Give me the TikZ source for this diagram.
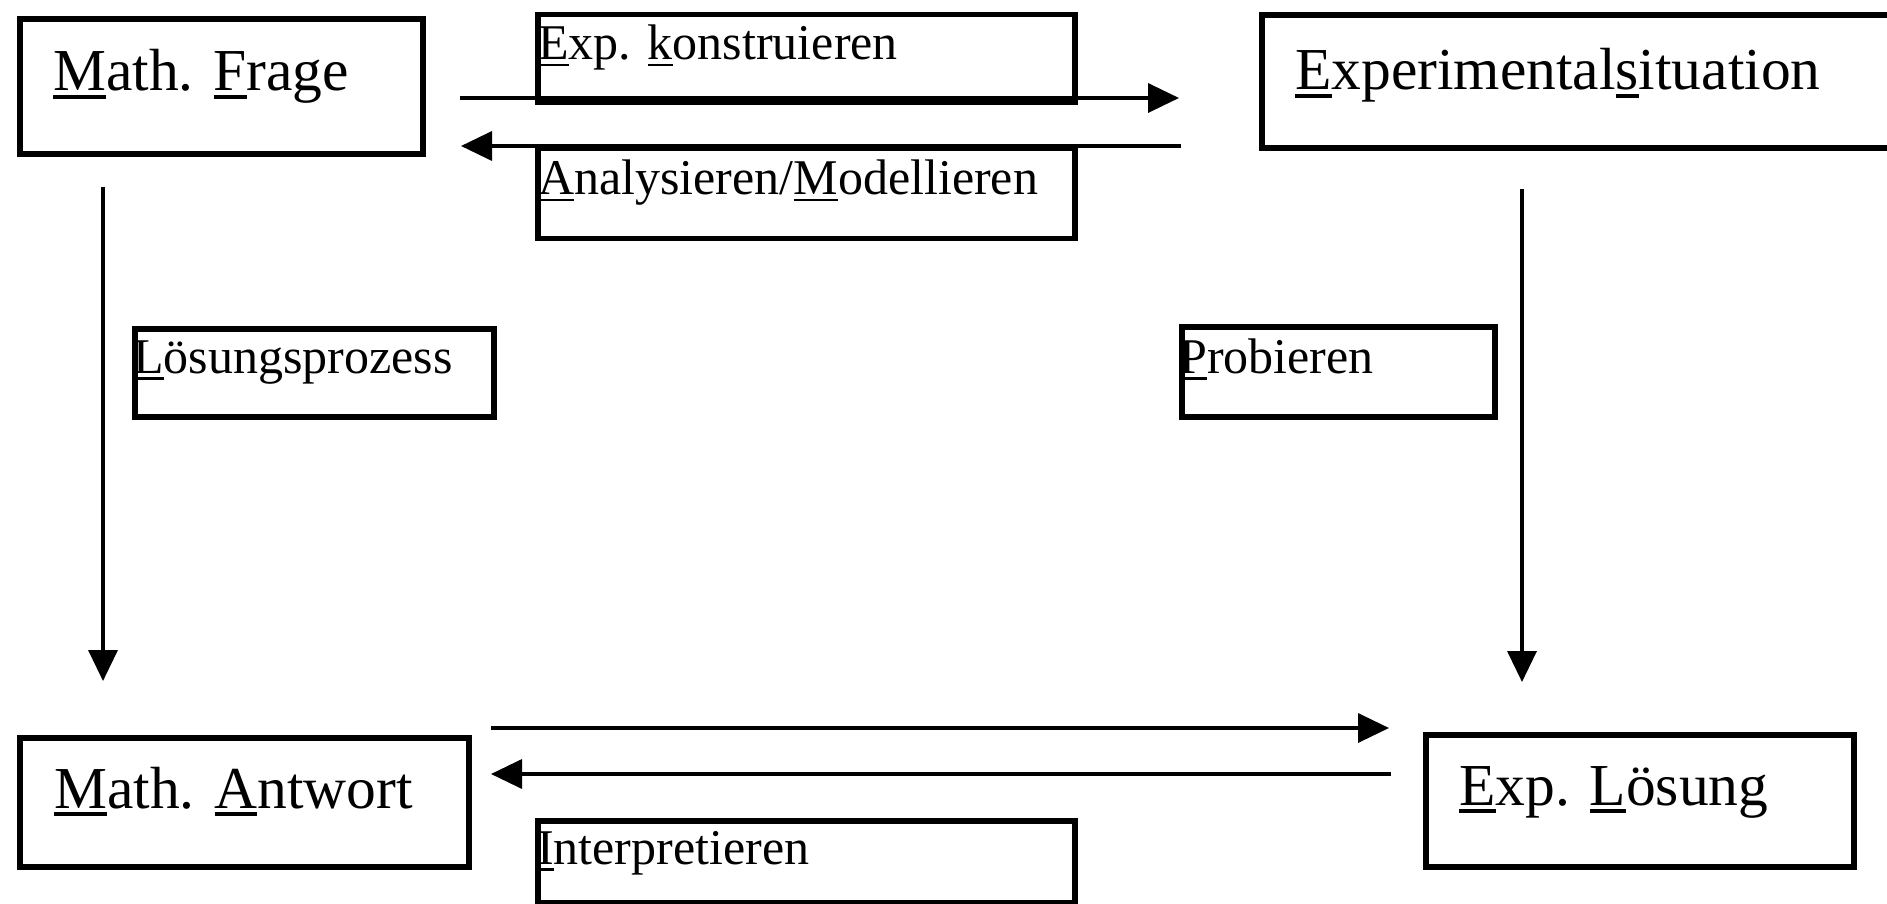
\documentclass[tikz,border=0pt]{standalone}
\usepackage{fontspec}
\setmainfont{Liberation Serif}
\usetikzlibrary{arrows.meta}
\newcommand\mainfs{\fontsize{59.5}{70}\selectfont}
\newcommand\labfs{\fontsize{50}{60}\selectfont}
\newcommand\ulx[1]{\setbox0\hbox{#1}\rlap{\rule[-0.13em]{\wd0}{0.055em}}\box0}
\begin{document}
\begin{tikzpicture}[x=1pt,y=-1pt,
  bigbox/.style={draw, line width=6pt, inner sep=0pt, anchor=north west},
  labbox/.style={draw, line width=5.5pt, inner sep=0pt, anchor=north west},
  maintxt/.style={font=\mainfs, inner sep=0pt, anchor=base west},
  labtxt/.style={font=\labfs, inner sep=0pt, anchor=base west},
  conn/.style={line width=3.6pt, -{Triangle[length=31pt,width=29pt]}}]
\useasboundingbox (0,0) rectangle (1887,904);
% boxes
\node[bigbox, minimum width=403pt, minimum height=135pt] (mf) at (16.5,16.5) {};
\node[labbox, minimum width=537pt, minimum height=88pt] (ek) at (535,12) {};
\node[labbox, minimum width=537pt, minimum height=90pt] (am) at (535,145.5) {};
\node[bigbox, minimum width=634pt, minimum height=133pt] (es) at (1258.5,12.5) {};
\node[labbox, minimum width=359pt, minimum height=88pt] (lp) at (132,326) {};
\node[labbox, minimum width=313pt, minimum height=90pt] (pb) at (1179,324) {};
\node[bigbox, minimum width=449pt, minimum height=129pt] (ma) at (16.5,734.5) {};
\node[labbox, minimum width=537pt, minimum height=82pt] (ip) at (535,818) {};
\node[bigbox, minimum width=428pt, minimum height=132pt] (el) at (1422.5,731.5) {};
% texts
\node[maintxt] (mft) at (53,91) {\ulx{M}ath. \ulx{F}rage};
\node[labtxt] (ekt) at (538,60) {\ulx{E}xp. \ulx{k}onstruieren};
\node[labtxt] (amt) at (538,195) {\ulx{A}nalysieren/\ulx{M}odellieren};
\node[maintxt] (est) at (1295,90) {\ulx{E}xperimental\ulx{s}ituation};
\node[labtxt] (lpt) at (133,373) {\ulx{L}ösungsprozess};
\node[labtxt] (pbt) at (1179,373) {\ulx{P}robieren};
\node[maintxt] (mat) at (54,808) {\ulx{M}ath. \ulx{A}ntwort};
\node[labtxt] (ipt) at (537,864) {\ulx{I}nterpretieren};
\node[maintxt] (elt) at (1459,805) {\ulx{E}xp. \ulx{L}ösung};
% connector end points
\coordinate (t1s) at (460,98);   \coordinate (t1e) at (1179,98);
\coordinate (t2s) at (1181,146); \coordinate (t2e) at (461,146);
\coordinate (v1s) at (103,187);  \coordinate (v1e) at (103,681);
\coordinate (v2s) at (1522,189); \coordinate (v2e) at (1522,682);
\coordinate (b1s) at (491,728);  \coordinate (b1e) at (1389,728);
\coordinate (b2s) at (1391,774); \coordinate (b2e) at (491,774);
% connectors
\draw[conn] (t1s) -- (t1e);
\draw[conn] (t2s) -- (t2e);
\draw[conn] (v1s) -- (v1e);
\draw[conn] (v2s) -- (v2e);
\draw[conn] (b1s) -- (b1e);
\draw[conn] (b2s) -- (b2e);
\end{tikzpicture}
\end{document}
